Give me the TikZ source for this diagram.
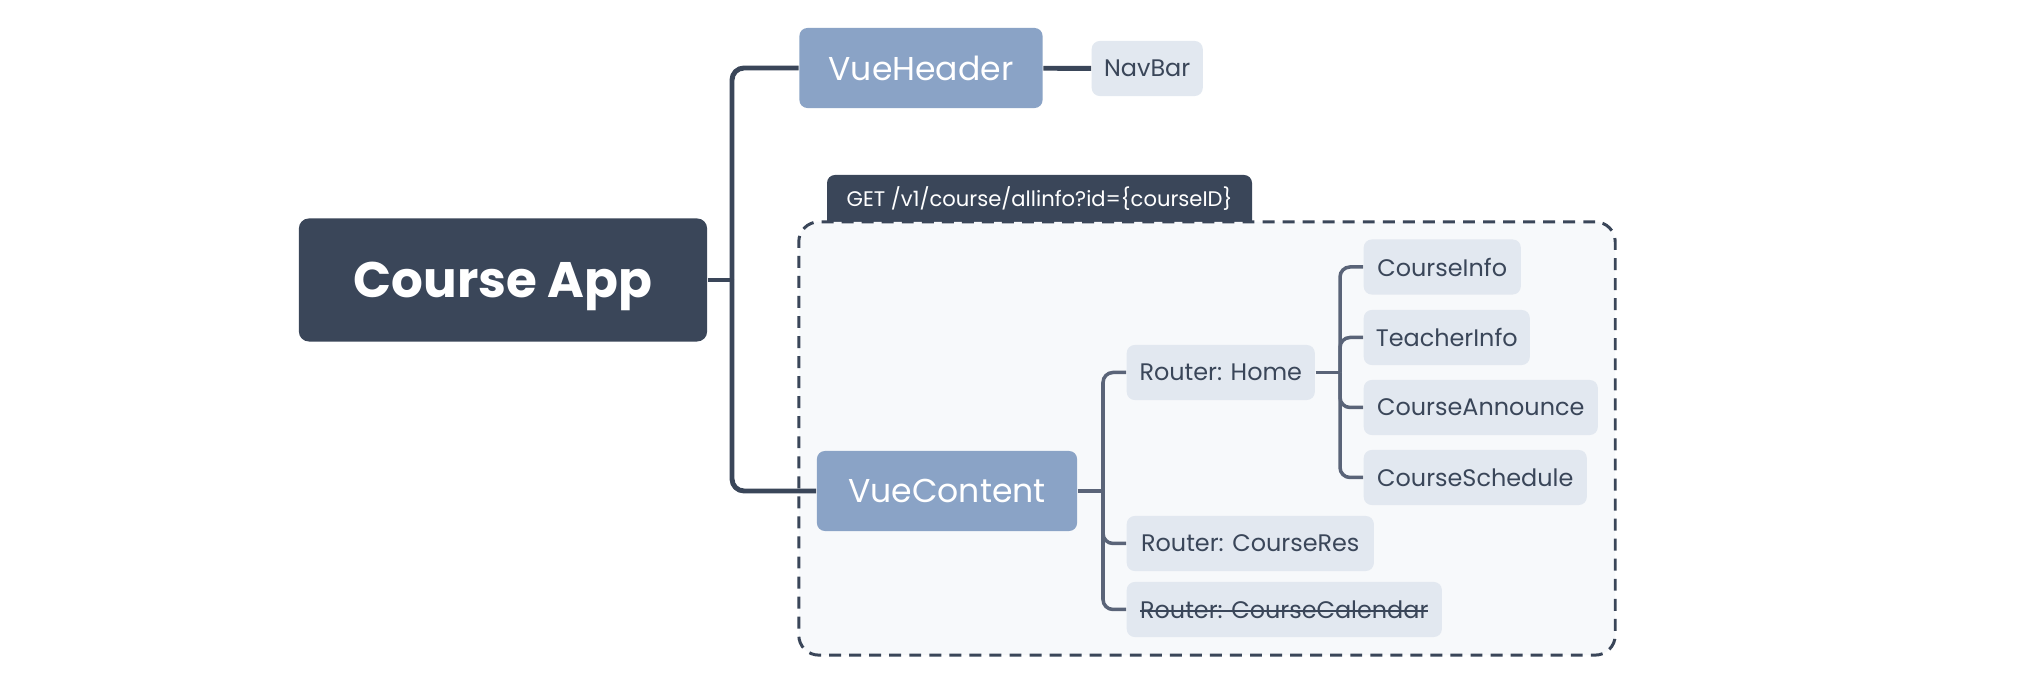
\documentclass[tikz,border=0pt]{standalone}
\usepackage{fontspec}
\setmainfont{Poppins}
\usetikzlibrary{positioning}

\definecolor{appdark}{HTML}{3A4659}
\definecolor{vueblue}{HTML}{8AA3C6}
\definecolor{leafgray}{HTML}{E2E8F0}
\definecolor{boxbg}{HTML}{F7F9FB}
\definecolor{twiggray}{HTML}{5A6478}
\newcommand{\strikeout}[1]{\sbox0{#1}\usebox0\llap{\rule[0.28em]{\wd0}{0.45pt}}}

\begin{document}
\begin{tikzpicture}
	[x=0.01cm,y=-0.01cm,
	app/.style={fill=appdark,text=white,rounded corners=0.1cm,minimum width=4.08cm,minimum height=1.23cm,text depth=0pt,font=\fontsize{14.2}{17}\selectfont\bfseries},
	comp/.style={fill=vueblue,text=white,rounded corners=0.08cm,minimum height=0.8cm,font=\fontsize{9.4}{11}\selectfont},
	leaf/.style={fill=leafgray,text=appdark,rounded corners=0.08cm,minimum height=0.55cm,anchor=west,font=\fontsize{6.8}{8}\selectfont},
	apibox/.style={draw=appdark,fill=boxbg,line width=0.85pt,dash pattern=on 3.4pt off 2.3pt,rounded corners=0.2cm,minimum width=8.16cm,minimum height=4.33cm},
	trunk/.style={draw=appdark,line width=1.4pt,rounded corners=0.12cm},
	twig/.style={draw=twiggray,line width=1pt,rounded corners=0.1cm}]
	\useasboundingbox (0,0) rectangle (2038,680);
	\fill[white] (0,0) rectangle (2038,680);
	
	\node[app] (app) at (503,280) {Course App};
	\node[comp,minimum width=2.43cm] (header) at (921,68) {VueHeader};
	\node[leaf,minimum width=1.11cm] (navbar) at (1091,68.5) {NavBar};
	
	% request tab and content frame
	\fill[appdark,rounded corners=0.08cm] (827,240) |- (1252,175) -- (1252,240) -- cycle;
	\node[text=white,font=\fontsize{6}{7}\selectfont] (get) at (1039.5,199) {GET /v1/course/allinfo?id=\{courseID\}};
	\node[apibox] (api) at (1207,438.5) {};
	
	\node[comp,minimum width=2.6cm] (content) at (947,491) {VueContent};
	\node[leaf,minimum width=1.88cm] (home) at (1126,372.5) {Router: Home};
	\node[leaf,minimum width=2.47cm] (res) at (1126,543.5) {Router: CourseRes};
	\node[leaf,minimum width=3.15cm] (calendar) at (1126,609.5) {\strikeout{Router: CourseCalendar}};
	\node[leaf,minimum width=1.57cm] (info) at (1363,267) {CourseInfo};
	\node[leaf,minimum width=1.66cm] (teacher) at (1363,337.5) {TeacherInfo};
	\node[leaf,minimum width=2.34cm] (announce) at (1363,407.5) {CourseAnnounce};
	\node[leaf,minimum width=2.23cm] (schedule) at (1363,477.5) {CourseSchedule};
	
	\coordinate (spine) at (732,280);
	\coordinate (fork) at (1103,491);
	\coordinate (hub) at (1340,372.5);
	
	\draw[trunk] (app.east) -- (spine);
	\foreach \to in {header,content}
	\draw[trunk] (spine) |- (\to.west);
	\draw[trunk] (header) -- (navbar);
	
	\draw[twig] (content.east) -- (fork);
	\foreach \to in {home,res,calendar}
	\draw[twig] (fork) |- (\to.west);
	\draw[twig] (home.east) -- (hub);
	\foreach \to in {info,teacher,announce,schedule}
	\draw[twig] (hub) |- (\to.west);
\end{tikzpicture}
\end{document}
